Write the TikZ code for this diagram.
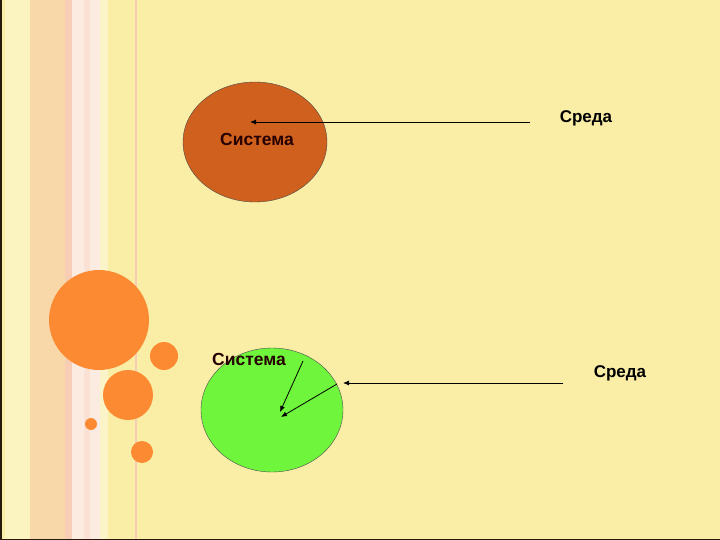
\documentclass[tikz,border=0pt]{standalone}
\usepackage{fontspec}
\setmainfont{Liberation Sans}
\usetikzlibrary{arrows.meta}
\begin{document}
\begin{tikzpicture}[x=1pt,y=-1pt,
  lbl/.style={font=\fontsize{17}{20}\selectfont\bfseries},
  sys/.style={font=\fontsize{17.5}{20}\selectfont\bfseries,text=black!85!red},
  arr/.style={-{Latex[length=6pt,width=5pt]},line width=0.8pt},
  dot/.style={circle,draw=none,inner sep=0pt}]
\definecolor{bg}{HTML}{FAEDA5}
\definecolor{peach}{HTML}{F8D8A8}
\definecolor{pinkst}{HTML}{F7CDB5}
\definecolor{dotc}{HTML}{FB8A33}
\definecolor{brownc}{HTML}{D0601E}
\definecolor{greenc}{HTML}{6EF53C}
\useasboundingbox (0,0) rectangle (720,540);
\fill[bg] (0,0) rectangle (720,540);
\fill[bg!70!white] (5,0) rectangle (30,540);
\fill[peach] (30,0) rectangle (65,540);
\fill[pinkst] (65,0) rectangle (72,540);
\fill[white!60!pinkst] (72,0) rectangle (100,540);
\fill[pinkst!60!white] (84,0) rectangle (90,540);
\fill[bg!60!white] (100,0) rectangle (108,540);
\fill[pinkst] (135,0) rectangle (137,540);
\draw[black!80!brown,line width=1.5pt] (0.75,0) -- (0.75,539.25) -- (720,539.25);
\node[dot,fill=dotc,minimum size=100pt] (c1) at (99,320) {};
\node[dot,fill=dotc,minimum size=28pt] (c2) at (164,356) {};
\node[dot,fill=dotc,minimum size=50pt] (c3) at (128,395) {};
\node[dot,fill=dotc,minimum size=12pt] (c4) at (91,424) {};
\node[dot,fill=dotc,minimum size=22pt] (c5) at (142,452) {};
\draw[fill=brownc,draw=black!70] (255,142) ellipse [x radius=72,y radius=60];
\node[sys] (s1) at (257,139) {Система};
\node[lbl] (e1) at (586,118) {Среда};
\coordinate (a1s) at (530,122);
\coordinate (a1e) at (250,122);
\draw[arr] (a1s) -- (a1e);
\draw[fill=greenc,draw=black!70] (272,410) ellipse [x radius=71,y radius=62];
\node[sys] (s2) at (249,359) {Система};
\node[lbl] (e2) at (620,373) {Среда};
\coordinate (b1) at (303,361);
\coordinate (b2) at (280,412);
\coordinate (b3) at (337,384);
\coordinate (b4) at (281,417);
\coordinate (b5) at (563,383);
\coordinate (b6) at (343,383);
\draw[arr] (b1) -- (b2);
\draw[arr] (b3) -- (b4);
\draw[arr] (b5) -- (b6);
\end{tikzpicture}
\end{document}
